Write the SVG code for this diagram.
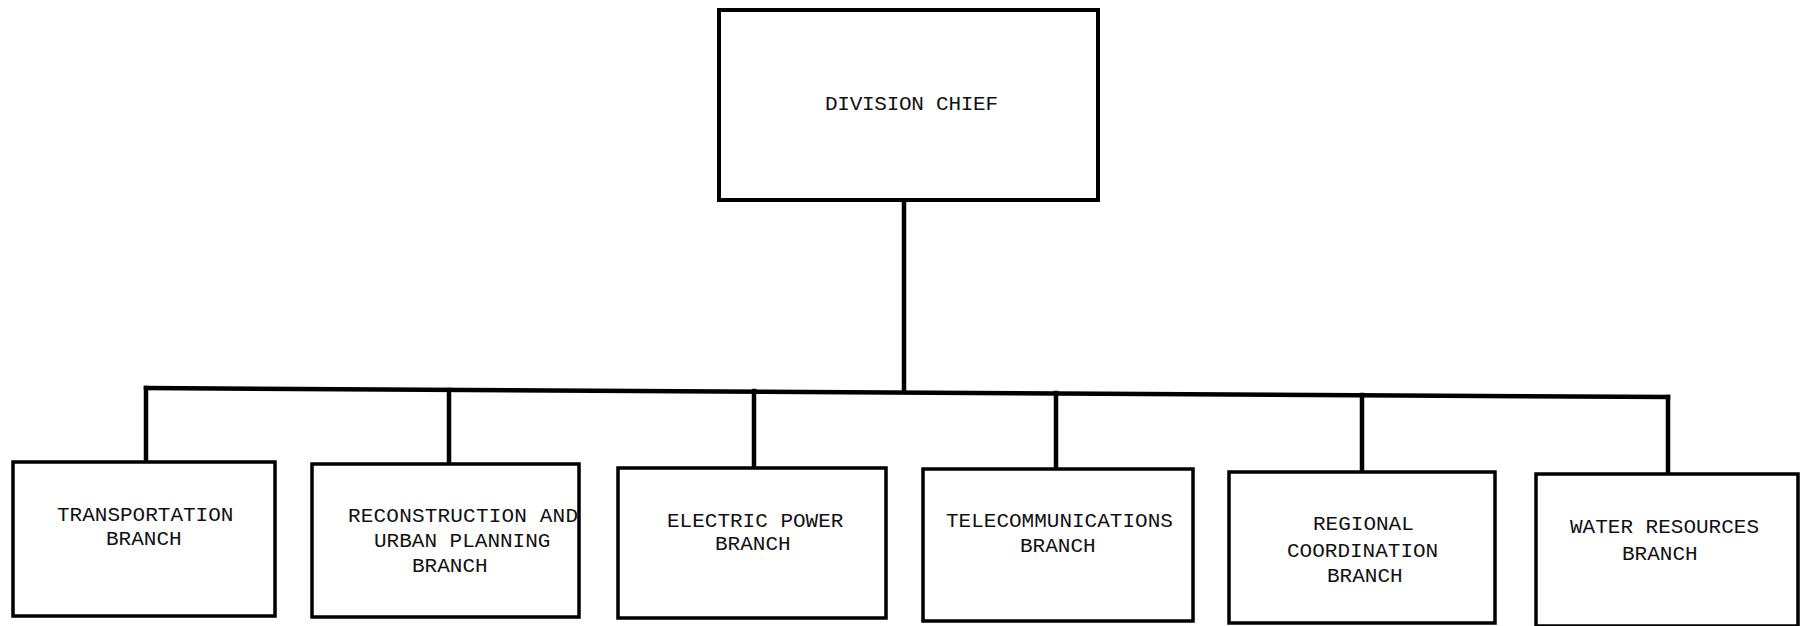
<svg xmlns="http://www.w3.org/2000/svg" width="1803" height="626" viewBox="0 0 1803 626">
  <style>
    .box { fill: #ffffff; stroke: #000000; stroke-width: 3.5; }
    .top { stroke-width: 4; }
    .wire { fill: none; stroke: #000000; stroke-width: 4.5; stroke-linecap: square; }
    .lbl { font-family: "Liberation Mono", "Courier New", monospace; font-size: 21px; fill: #111111; }
  </style>
  <rect width="1803" height="626" fill="#ffffff"/>

  <!-- connectors: trunk, sloping bus bar and drops to each branch -->
  <g id="connectors">
    <line class="wire" x1="904" y1="200" x2="904" y2="391"/>
    <line class="wire" x1="146" y1="388" x2="1668" y2="397"/>
    <line class="wire" x1="146" y1="388" x2="146" y2="462"/>
    <line class="wire" x1="449" y1="390" x2="449" y2="464"/>
    <line class="wire" x1="754" y1="391" x2="754" y2="468"/>
    <line class="wire" x1="1056" y1="393" x2="1056" y2="469"/>
    <line class="wire" x1="1362" y1="395" x2="1362" y2="472"/>
    <line class="wire" x1="1668" y1="397" x2="1668" y2="474"/>
  </g>

  <g id="division-chief">
    <rect class="box top" x="719" y="10" width="379" height="190"/>
    <text class="lbl" x="825" y="110" textLength="173">DIVISION CHIEF</text>
  </g>

  <g id="transportation">
    <rect class="box" x="13" y="462" width="262" height="154"/>
    <text class="lbl" x="57" y="521">TRANSPORTATION</text>
    <text class="lbl" x="106" y="545">BRANCH</text>
  </g>

  <g id="reconstruction">
    <rect class="box" x="312" y="464" width="267" height="153"/>
    <text class="lbl" x="348" y="522" textLength="230">RECONSTRUCTION AND</text>
    <text class="lbl" x="374" y="547">URBAN PLANNING</text>
    <text class="lbl" x="412" y="572">BRANCH</text>
  </g>

  <g id="electric-power">
    <rect class="box" x="618" y="468" width="268" height="150"/>
    <text class="lbl" x="667" y="527">ELECTRIC POWER</text>
    <text class="lbl" x="715" y="550">BRANCH</text>
  </g>

  <g id="telecommunications">
    <rect class="box" x="923" y="469" width="270" height="152"/>
    <text class="lbl" x="946" y="527">TELECOMMUNICATIONS</text>
    <text class="lbl" x="1020" y="552">BRANCH</text>
  </g>

  <g id="regional-coordination">
    <rect class="box" x="1229" y="472" width="266" height="151"/>
    <text class="lbl" x="1313" y="530">REGIONAL</text>
    <text class="lbl" x="1287" y="557">COORDINATION</text>
    <text class="lbl" x="1327" y="582">BRANCH</text>
  </g>

  <g id="water-resources">
    <rect class="box" x="1536" y="474" width="262" height="152"/>
    <text class="lbl" x="1570" y="533">WATER RESOURCES</text>
    <text class="lbl" x="1622" y="560">BRANCH</text>
  </g>
</svg>
